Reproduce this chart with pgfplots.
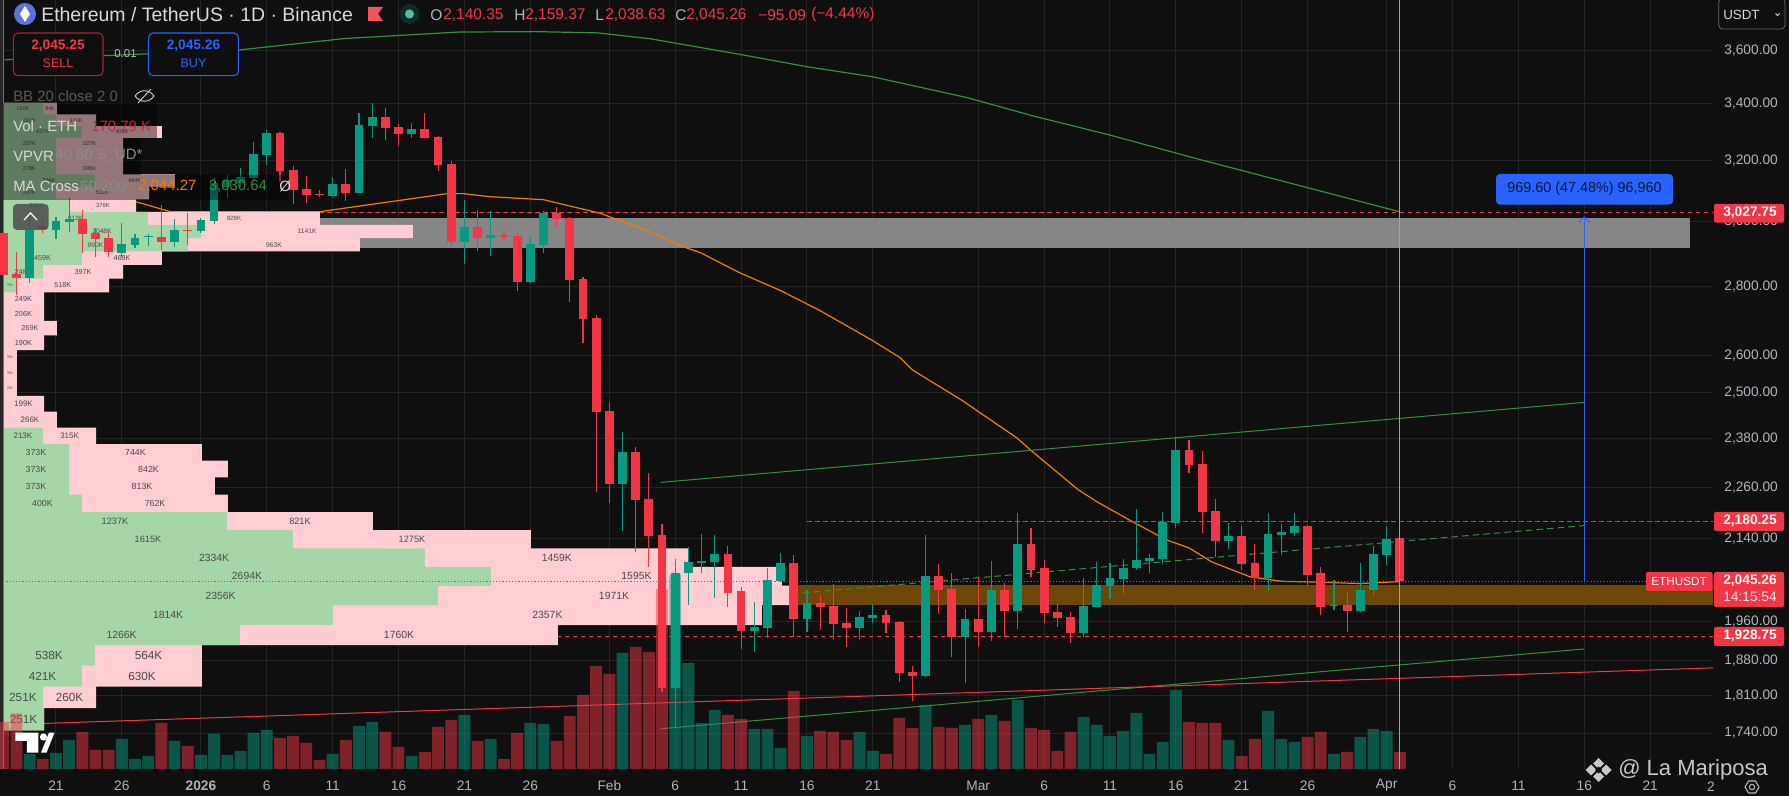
\documentclass[border=0pt]{standalone}
\usepackage{fontspec}
\setmainfont{Liberation Sans}
\usepackage{pgfplots}
\pgfplotsset{compat=1.18}
\usepackage{pgfplotstable}
\definecolor{bgc}{HTML}{0F0F0F}
\definecolor{gridc}{HTML}{242424}
\definecolor{upc}{HTML}{089981}
\definecolor{dnc}{HTML}{F23645}
\definecolor{pk}{HTML}{FFCDD2}
\definecolor{gn}{HTML}{A5D6A7}
\definecolor{lab}{HTML}{B2B5BE}
\definecolor{ma50}{HTML}{F57C00}
\definecolor{ma200}{HTML}{388E3C}
\definecolor{zoneg}{HTML}{868686}
\definecolor{zoneb}{HTML}{6E4708}
\definecolor{bluec}{HTML}{2962FF}
\definecolor{vtxt}{HTML}{4A4A4A}
\definecolor{vline}{HTML}{E89A20}
\definecolor{ethc}{HTML}{5A73D8}
\definecolor{flagc}{HTML}{F7525F}
\definecolor{halo}{HTML}{0F2A2A}
\definecolor{dotc}{HTML}{4FC3A1}
\definecolor{sellb}{HTML}{A82633}
\definecolor{boxt}{HTML}{0C1830}

% candles: day (from 1 Jan 2026), open, high, low, close
\pgfplotstableread{
d o h l c
-13 2825 3021 2810 2974
-11 2974 3015 2945 3002
-10 2999 3076 2967 3008
-6 2902 2995 2889 2929
-5 2926 2961 2917 2948
-4 2951 2961 2923 2954
-2 2935 3008 2920 2974
0 2970 3011 2964 3005
1 3002 3146 2992 3126
2 3113 3152 3076 3136
3 3126 3176 3113 3146
4 3142 3265 3136 3224
5 3220 3307 3186 3297
10 3083 3146 3080 3122
12 3093 3368 3093 3325
13 3322 3404 3279 3354
16 3293 3332 3279 3311
20 2935 3070 2868 2983
22 2948 3034 2892 2958
25 2813 2951 2810 2929
26 2926 3034 2902 3028
32 2269 2398 2158 2347
36 1826 2095 1750 2064
37 2062 2122 1995 2088
38 2086 2151 2064 2090
39 2088 2149 2009 2106
42 1940 2001 1897 1948
43 1946 2075 1926 2048
44 2046 2108 2044 2086
46 1965 2025 1938 1999
50 1946 1982 1924 1969
51 1967 1997 1957 1974
55 1849 2149 1847 2057
58 1928 1986 1836 1965
60 1938 2090 1920 2027
62 1982 2200 1944 2128
67 1936 2053 1928 1992
68 1990 2088 1990 2037
69 2035 2086 2007 2053
70 2050 2095 2018 2075
71 2073 2209 2070 2092
72 2090 2106 2062 2097
73 2095 2202 2084 2179
74 2177 2385 2165 2352
78 2135 2177 2117 2147
81 2053 2200 2023 2151
82 2149 2174 2104 2156
83 2153 2200 2147 2170
86 1992 2048 1984 1995
88 1982 2086 1980 2027
89 2025 2124 2014 2106
90 2104 2168 2081 2140
}\upT
\pgfplotstableread{
d o h l c
-15 2964 3028 2793 2832
-14 2835 2905 2775 2825
-12 2986 3011 2964 2977
-9 3008 3037 2902 2961
-8 2964 2980 2889 2945
-7 2948 2967 2889 2905
-3 2951 3053 2911 2935
-1 2974 3028 2926 2970
6 3297 3298 3129 3166
7 3170 3183 3057 3103
8 3106 3149 3060 3086
9 3090 3103 3080 3086
11 3122 3173 3066 3093
14 3354 3386 3272 3315
15 3318 3329 3251 3293
17 3311 3368 3278 3279
18 3283 3286 3166 3186
19 3190 3200 2920 2935
21 2983 3037 2908 2948
23 2958 2970 2945 2951
24 2955 2964 2787 2813
27 3028 3047 2983 3008
28 3011 3015 2754 2819
29 2822 2828 2636 2704
30 2707 2716 2250 2450
31 2452 2475 2223 2269
33 2347 2360 2110 2230
34 2233 2296 2077 2147
35 2149 2174 1818 1826
40 2106 2124 1990 2020
41 2023 2033 1903 1940
45 2086 2104 1928 1965
47 1999 2016 1942 1990
48 1992 2040 1924 1955
49 1957 1988 1907 1946
52 1974 1984 1936 1957
53 1959 1960 1838 1855
54 1857 1869 1801 1849
56 2057 2084 1976 2027
57 2029 2064 1887 1928
59 1965 2055 1907 1938
61 2027 2042 1928 1982
63 2128 2165 2055 2070
64 2073 2092 1957 1978
65 1980 1997 1949 1967
66 1969 1980 1915 1936
75 2352 2377 2296 2315
76 2318 2350 2153 2202
77 2205 2233 2099 2135
79 2147 2170 2070 2084
80 2086 2128 2027 2053
84 2170 2172 2035 2059
85 2062 2077 1972 1990
87 1995 2020 1938 1982
91 2140.35 2159.37 2038.63 2045.26
}\dnT
% volume, thousand ETH
\pgfplotstableread{
d v
-13 150
-11 160
-10 290
-6 300
-5 100
-4 130
-2 280
0 140
1 350
2 140
3 180
4 360
5 390
10 150
12 430
13 470
16 130
20 540
22 300
25 460
26 450
32 1160
36 1940
37 1060
38 460
39 590
42 400
43 400
44 210
46 330
50 370
51 180
55 640
58 440
60 540
62 690
67 520
68 440
69 330
70 380
71 560
72 150
73 270
74 790
78 290
81 580
82 300
83 270
86 150
88 320
89 400
90 380
}\volU
\pgfplotstableread{
d v
-15 470
-14 557
-12 100
-9 370
-8 190
-7 190
-3 460
-1 230
6 310
7 330
8 260
9 90
11 290
14 370
15 220
17 170
18 420
19 490
21 280
23 100
24 360
27 280
28 530
29 740
30 1030
31 950
33 1220
34 1170
35 1800
40 540
41 500
45 780
47 380
48 370
49 290
52 150
53 510
54 410
56 420
57 410
59 500
61 480
63 410
64 390
65 180
66 370
75 470
76 460
77 460
79 130
80 300
84 320
85 370
87 170
91 170.79
}\volD
% volume profile: lower price edge, bar ends in thousands
\pgfplotstableread{
p g t
1745 227 227
1786.5 221 514
1827.9 436 1099
1869.4 508 1099
1910.8 1309 3066
1952.3 1823 4193
1993.7 2403 4348
2035.2 2696 4304
2076.6 2331 3790
2118.1 1602 2917
2159.5 1238 2044
2201 436 1243
2242.4 365 1171
2283.9 365 1243
2325.3 365 1099
2366.8 221 514
2408.2 0 298
2449.7 0 227
2491.1 0 77
2532.6 0 77
2574 0 77
2615.5 0 227
2656.9 0 298
2698.4 0 227
2739.8 0 227
2781.3 75 586
2822.7 221 663
2864.2 436 878
2905.6 1022 1972
2947.1 1094 2265
2988.5 801 1751
3030 370 735
3071.4 293 807
3112.9 508 950
3154.3 293 663
3195.8 293 663
3237.2 293 663
3278.7 436 878
3320.1 293 514
3361.6 221 298
3403 0 0
}\vpT

\newcommand{\vl}[4]{\node[font=\fontsize{#1}{#1}\selectfont,text=vtxt,inner sep=0pt] at (axis cs:#2,#3) {#4};}
\pgfplotsset{
  chartbox/.style={scale only axis,width=1284.75pt,height=576.75pt,at={(0pt,20.25pt)},anchor=south west},
  wickst/.style={forget plot,draw=none,mark=none,error bars/.cd,y dir=plus,y explicit,error mark=none,
    error bar style={draw=#1,solid,line width=0.85pt}},
  bodyst/.style={forget plot,draw=none,mark=none,error bars/.cd,y dir=plus,y explicit,error mark=none,
    error bar style={draw=#1,solid,line width=6.6pt}},
}
\begin{document}
\begin{tikzpicture}
\useasboundingbox (0,0) rectangle (1341.75pt,597pt);
\fill[bgc] (0,0) rectangle (1341.75pt,597pt);
% left strip
\fill[black!85!white] (0,20.25pt) rectangle (2.2pt,597pt);

% ---- grid, zones, averages, levels
\begin{axis}[chartbox,xmin=-15.25,xmax=114.77,ymode=log,ymin=1674.7,ymax=3798.1,
  axis line style={draw=none},major tick length=0pt,minor tick num=0,
  grid=major,grid style={color=gridc,line width=0.75pt},
  xtick={-11,-6,0,5,10,15,20,25,31,36,41,46,51,59,64,69,74,79,84,90,95,100,105,110},
  xticklabels={21,26,\textbf{2026},6,11,16,21,26,Feb,6,11,16,21,Mar,6,11,16,21,26,Apr,6,11,16,21},
  xticklabel style={anchor=center,yshift=-12.5pt,font=\fontsize{10.3}{12}\selectfont,text=lab},
  ytick={1740,1810,1880,1960,2140,2260,2380,2500,2600,2800,3000,3200,3400,3600},
  yticklabels={{1,740.00},{1,810.00},{1,880.00},{1,960.00},{2,140.00},{2,260.00},{2,380.00},{2,500.00},{2,600.00},{2,800.00},{3,000.00},{3,200.00},{3,400.00},{3,600.00}},
  yticklabel pos=right,
  yticklabel style={anchor=west,xshift=5pt,font=\fontsize{10.3}{12}\selectfont,text=lab},
]
\addplot[fill=zoneg,draw=none] coordinates {(-6,3011) (113,3011) (113,2917) (-6,2917)} -- cycle;
\addplot[fill=zoneb,draw=none] coordinates {(44,2037.5) (114.77,2037.5) (114.77,1995) (44,1995)} -- cycle;
% MA 200
\addplot[ma200,line width=0.9pt] coordinates {(-14.9,3563) (2.9,3601) (10.9,3645) (19.6,3670) (25.4,3672) (30.1,3667) (34.1,3644) (41.1,3582) (46,3537) (51,3499) (58.2,3422) (63.1,3357) (68.9,3290) (75.6,3207) (91,3030.64)};
% MA 50
\addplot[ma50,line width=0.9pt] coordinates {(-4.9,3063) (-2.3,3031) (9,3031) (18.7,3090) (19.9,3090) (21.9,3080) (26,3070) (30.3,3026) (34.1,2967) (36.8,2917) (37.9,2902) (40.9,2840) (44,2787) (47,2728) (51,2642) (53.1,2594) (54,2561) (57.7,2481) (61.9,2383) (63.1,2348) (66.6,2254) (68.1,2224) (71,2174) (73.3,2137) (75,2119) (76.7,2088) (79.6,2055) (82,2045) (84.9,2043) (88,2040) (91,2044.27)};
% trend lines
\addplot[ma200,line width=0.75pt] coordinates {(34.9,2272) (105,2474)};
\addplot[ma200,line width=0.75pt] coordinates {(34.9,1748) (105,1903)};
\addplot[ma200,line width=0.75pt,dash pattern=on 5pt off 3pt] coordinates {(45.7,2020) (105,2170)};
\addplot[dnc,line width=0.75pt] coordinates {(-12,1757.7) (114.77,1865)};
% levels
\addplot[dnc,line width=0.6pt,dash pattern=on 3.6pt off 2.4pt] coordinates {(9,3027.75) (114.77,3027.75)};
\addplot[dnc,line width=0.6pt,dash pattern=on 3.6pt off 2.4pt] coordinates {(46,2180.25) (114.77,2180.25)};
\addplot[dnc,line width=0.6pt,dash pattern=on 3.6pt off 2.4pt] coordinates {(27,1928.75) (114.77,1928.75)};
\end{axis}

% ---- volume profile
\begin{axis}[chartbox,hide axis,xmin=-16.6,xmax=9448,ymode=log,ymin=1674.7,ymax=3798.1]
\addplot[xbar interval,fill=pk,draw=none] table[x=t,y=p]{\vpT};
\addplot[xbar interval,fill=gn,draw=none] table[x=g,y=p]{\vpT};
\vl{8.8}{113}{1766}{251K}
\vl{8.8}{110}{1807}{251K}\vl{8.8}{368}{1807}{260K}
\vl{8.8}{218}{1849}{421K}\vl{8.8}{768}{1849}{630K}
\vl{8.8}{254}{1890}{538K}\vl{8.8}{804}{1890}{564K}
\vl{7.8}{655}{1932}{1266K}\vl{7.8}{2188}{1932}{1760K}
\vl{7.8}{912}{1973}{1814K}\vl{7.8}{3008}{1973}{2357K}
\vl{7.8}{1202}{2014}{2356K}\vl{7.8}{3376}{2014}{1971K}
\vl{7.8}{1348}{2056}{2694K}\vl{7.8}{3500}{2056}{1595K}
\vl{7.8}{1166}{2097}{2334K}\vl{7.8}{3060}{2097}{1459K}
\vl{6.9}{801}{2139}{1615K}\vl{6.9}{2260}{2139}{1275K}
\vl{6.9}{619}{2180}{1237K}\vl{6.9}{1641}{2180}{821K}
\vl{6.6}{218}{2222}{400K}\vl{6.6}{840}{2222}{762K}
\vl{6.6}{182}{2263}{373K}\vl{6.6}{768}{2263}{813K}
\vl{6.6}{182}{2304}{373K}\vl{6.6}{804}{2304}{842K}
\vl{6.6}{182}{2346}{373K}\vl{6.6}{732}{2346}{744K}
\vl{6}{110}{2387}{213K}\vl{6}{368}{2387}{315K}
\vl{6}{149}{2429}{266K}
\vl{6}{113}{2470}{199K}
\vl{2.6}{38}{2512}{78K}\vl{2.6}{38}{2553}{78K}\vl{2.6}{38}{2595}{78K}
\vl{5.5}{113}{2636}{190K}
\vl{5.5}{149}{2678}{269K}
\vl{5.5}{113}{2719}{206K}
\vl{5.5}{113}{2761}{249K}
\vl{2.6}{38}{2802}{75K}\vl{5.4}{330}{2802}{518K}
\vl{5.4}{110}{2843}{248K}\vl{5.4}{442}{2843}{397K}
\vl{5.4}{218}{2885}{459K}\vl{5.4}{657}{2885}{468K}
\vl{5}{511}{2926}{990K}\vl{5}{1497}{2926}{963K}
\vl{5}{547}{2968}{1048K}\vl{5}{1680}{2968}{1141K}
\vl{4.6}{400}{3009}{812K}\vl{4.6}{1276}{3009}{928K}
\vl{4.4}{185}{3051}{331K}\vl{4.4}{552}{3051}{376K}
\vl{4.2}{146}{3092}{297K}\vl{4.2}{550}{3092}{511K}
\vl{4.2}{254}{3134}{399K}\vl{4.2}{729}{3134}{464K}
\vl{4.2}{146}{3175}{278K}\vl{4.2}{478}{3175}{395K}
\vl{4.2}{146}{3258}{287K}\vl{4.2}{478}{3258}{327K}
\vl{4.2}{218}{3300}{427K}\vl{4.2}{657}{3300}{406K}
\vl{4}{146}{3341}{281K}\vl{4}{404}{3341}{140K}
\vl{4}{110}{3382}{150K}\vl{4}{260}{3382}{94K}
\end{axis}

% ---- volume
\begin{axis}[chartbox,hide axis,xmin=-15.25,xmax=114.77,ymin=0,ymax=7690]
\addplot[ybar,bar width=0.9,bar shift=0pt,fill=upc,fill opacity=0.5,draw=none] table[x=d,y=v]{\volU};
\addplot[ybar,bar width=0.9,bar shift=0pt,fill=dnc,fill opacity=0.5,draw=none] table[x=d,y=v]{\volD};
\end{axis}

% ---- candles and cursor lines
\begin{axis}[chartbox,hide axis,xmin=-15.25,xmax=114.77,ymode=log,ymin=1674.7,ymax=3798.1]
\addplot[wickst=upc] table[x=d,y=l,y error expr=\thisrow{h}-\thisrow{l}]{\upT};
\addplot[wickst=dnc] table[x=d,y=l,y error expr=\thisrow{h}-\thisrow{l}]{\dnT};
\addplot[bodyst=upc] table[x=d,y=o,y error expr=\thisrow{c}-\thisrow{o}]{\upT};
\addplot[bodyst=dnc] table[x=d,y=c,y error expr=\thisrow{o}-\thisrow{c}]{\dnT};
\addplot[dnc,line width=0.6pt,dash pattern=on 0.8pt off 1.6pt] coordinates {(-15,2045.26) (114.77,2045.26)};
\addplot[vline,line width=0.8pt] coordinates {(91,1674.7) (91,3798.1)};
\addplot[vline!70!black,line width=0.6pt] coordinates {(-15,1674.7) (-15,3798.1)};
\addplot[bluec,line width=0.8pt] coordinates {(105,2043) (105,3014)};
\addplot[bluec,line width=0.6pt] coordinates {(104.56,2997) (105,3014) (105.44,2997)};
\end{axis}

% ---- chart annotations, positions in pixels from the top left
\begin{scope}[yshift=597pt,x=0.75pt,y=-0.75pt]
 % legend veils
 \fill[black,opacity=0.42] (3,103) rectangle (157,139);
 \fill[black,opacity=0.42] (3,139) rectangle (141,175);
 \fill[black,opacity=0.42] (3,175) rectangle (288,200);
 % collapse button
 \fill[black!70!white,opacity=0.85,rounded corners=3pt] (13,204) rectangle (48.6,230);
 \draw[white,line width=0.9pt] (24,220) -- (30.5,213) -- (37,220);
 % header
 \fill[ethc] (25,14) circle (8.25pt);
 \fill[white] (25,6) -- (30,14) -- (25,22) -- (20,14) -- cycle;
 \node[anchor=west,inner sep=0pt,text=white!85!black,font=\fontsize{14.6}{16}\selectfont] at (41,15) {Ethereum / TetherUS · 1D · Binance};
 \fill[flagc] (368,7) -- (383,7) -- (378,14) -- (383,21) -- (368,21) -- cycle;
 \fill[halo] (409.5,14) circle (7.5pt);
 \fill[dotc] (409.5,14) circle (3.4pt);
 \begin{scope}[every node/.style={anchor=west,inner sep=0pt,font=\fontsize{11.6}{14}\selectfont}]
  \node[text=lab] at (430,15) {O};
  \node[text=dnc] at (443,15) {2,140.35};
  \node[text=lab] at (514,15) {H};
  \node[text=dnc] at (525,15) {2,159.37};
  \node[text=lab] at (595,15) {L};
  \node[text=dnc] at (605,15) {2,038.63};
  \node[text=lab] at (675,15) {C};
  \node[text=dnc] at (686,15) {2,045.26};
  \node[text=dnc] at (758,15) {−95.09};
  \node[text=dnc] at (811,15) {(−4.44\%)};
 \end{scope}
 % sell and buy
 \draw[sellb,line width=0.8pt,rounded corners=3.5pt,fill=bgc] (13.4,33) rectangle (103,75.7);
 \draw[bluec,line width=0.8pt,rounded corners=3.5pt,fill=bgc] (148.5,33) rectangle (238.4,75.7);
 \node[text=dnc,font=\bfseries\fontsize{10.3}{12}\selectfont,inner sep=0pt] at (58,46) {2,045.25};
 \node[text=dnc,font=\fontsize{9.4}{12}\selectfont,inner sep=0pt] at (58,63) {SELL};
 \node[text=bluec,font=\bfseries\fontsize{10.3}{12}\selectfont,inner sep=0pt] at (193.5,46) {2,045.26};
 \node[text=bluec,font=\fontsize{9.4}{12}\selectfont,inner sep=0pt] at (193.5,63) {BUY};
 \node[text=lab,font=\fontsize{8.6}{12}\selectfont,inner sep=0pt] at (125.5,54) {0.01};
 % legends
 \begin{scope}[every node/.style={anchor=west,inner sep=0pt,font=\fontsize{11.2}{14}\selectfont}]
  \node[text=white!35!black] at (13,96) {BB 20 close 2 0};
  \node[text=white!85!black] at (13,126) {Vol · ETH};
  \node[text=dnc!80!black] at (91,126) {170.79 K};
  \node[text=white!85!black] at (13,156) {VPVR};
  \node[text=white!55!black] at (55,156) {40 60 S\_UD*};
  \node[text=white!85!black] at (13,186) {MA Cross};
  \node[text=white!55!black] at (80,186) {50 200};
  \node[text=ma50] at (138,186) {2,044.27};
  \node[text=ma200] at (208.6,186) {3,030.64};
  \node[text=white!85!black] at (279,186) {Ø};
 \end{scope}
 \draw[white!80!black,line width=0.7pt] (135,96) .. controls (140,89) and (149,89) .. (154,96) .. controls (149,103) and (140,103) .. (135,96);
 \draw[white!80!black,line width=0.7pt] (138,103) -- (151,89);
 % TradingView mark
 \fill[white] (15.3,732.7) -- (38.3,732.7) -- (38.3,752.7) -- (26.8,752.7) -- (26.8,741) -- (15.3,741) -- cycle;
 \fill[white] (43.5,737) circle (2.7pt);
 \fill[white] (41,752.7) -- (49,732.7) -- (54.5,732.7) -- (46.5,752.7) -- cycle;
 % measure label
 \fill[bluec,rounded corners=3pt] (1496,174) rectangle (1673,204.7);
 \node[text=boxt,font=\fontsize{10.8}{12}\selectfont,inner sep=0pt] at (1584.5,189) {969.60 (47.48\%) 96,960};
 % price tags
 \fill[dnc,rounded corners=1.5pt] (1714,204) rectangle (1784,222.7);
 \fill[dnc,rounded corners=1.5pt] (1714,512) rectangle (1784,531);
 \fill[dnc,rounded corners=1.5pt] (1714,572) rectangle (1784,607);
 \fill[dnc,rounded corners=1.5pt] (1646,572) rectangle (1712.5,591);
 \fill[dnc,rounded corners=1.5pt] (1714,627) rectangle (1784,646);
 \begin{scope}[every node/.style={text=white,inner sep=0pt,font=\bfseries\fontsize{10.3}{12}\selectfont}]
  \node at (1750,213) {3,027.75};
  \node at (1750,521) {2,180.25};
  \node at (1750,581) {2,045.26};
  \node[font=\fontsize{10.3}{12}\selectfont,text=white!88!dnc] at (1750,597) {14:15:54};
  \node[font=\fontsize{8.8}{12}\selectfont] at (1679,581) {ETHUSDT};
  \node at (1750,636) {1,928.75};
 \end{scope}
 % currency selector
 \draw[white!40!black,line width=0.6pt,rounded corners=3pt] (1718.7,-2) rectangle (1785,29);
 \node[text=white!85!black,anchor=west,inner sep=0pt,font=\fontsize{10}{12}\selectfont] at (1723,15) {USDT};
 \draw[white!85!black,line width=0.7pt] (1775.5,13.5) -- (1777.5,15.5) -- (1779.5,13.5);
 % bottom right
 \node[text=lab,inner sep=0pt,font=\fontsize{10.3}{12}\selectfont] at (1711,787) {2};
 \fill[white!78!black] (1598.5,758) -- (1604,763.5) -- (1598.5,769) -- (1593,763.5) -- cycle;
 \fill[white!78!black] (1598.5,771) -- (1604,776.5) -- (1598.5,782) -- (1593,776.5) -- cycle;
 \fill[white!78!black] (1591,764.5) -- (1596.5,770) -- (1591,775.5) -- (1585.5,770) -- cycle;
 \fill[white!78!black] (1606,764.5) -- (1611.5,770) -- (1606,775.5) -- (1600.5,770) -- cycle;
 \fill[bgc] (1598.5,766.5) -- (1602,770) -- (1598.5,773.5) -- (1595,770) -- cycle;
 \node[text=white!78!black,inner sep=0pt,anchor=west,font=\fontsize{16.5}{20}\selectfont] at (1618,770) {@ La Mariposa};
 \draw[lab,line width=0.8pt] (1745,787) -- (1748.5,781) -- (1755.5,781) -- (1759,787) -- (1755.5,793) -- (1748.5,793) -- cycle;
 \draw[lab,line width=0.8pt] (1752,787) circle (2pt);
\end{scope}
\end{tikzpicture}
\end{document}
